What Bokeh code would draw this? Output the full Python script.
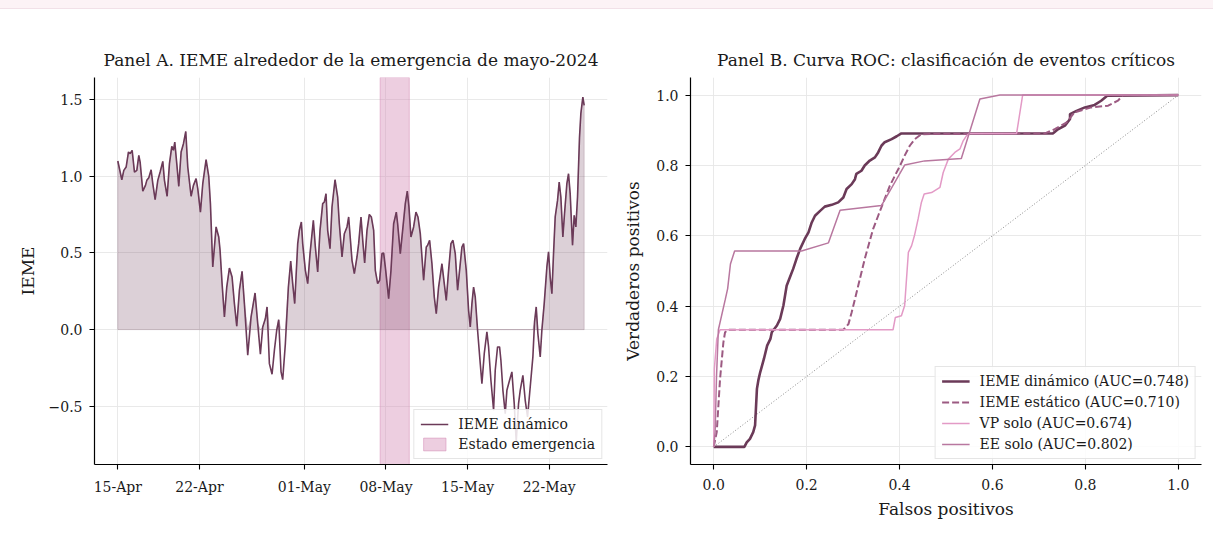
import numpy as np
from bokeh.plotting import figure
from bokeh.models import Range1d, FixedTicker, Legend, LegendItem, PrintfTickFormatter, Div
from bokeh.layouts import row, column
from bokeh.embed import file_html
from bokeh.resources import INLINE

FONT = "DejaVu Serif"

# ---------------- Panel A data ----------------
# days since 2024-04-15
tick_days = [0, 7, 16, 23, 30, 37]
tick_labels = ["15-Apr", "22-Apr", "01-May", "08-May", "15-May", "22-May"]

ieme_day = [0.000, 0.343, 0.514, 0.714, 0.914, 1.057, 1.229, 1.429, 1.629, 1.800, 1.914, 2.143, 2.371, 2.486,
            2.657, 2.857, 3.000, 3.200, 3.429, 3.629, 3.857, 4.000, 4.229, 4.429, 4.629, 4.771, 4.886, 5.057,
            5.229, 5.429, 5.629, 5.829, 6.000, 6.286, 6.486, 6.714, 6.857, 7.086, 7.286, 7.571, 7.800, 7.943,
            8.143, 8.429, 8.657, 8.771, 8.943, 9.143, 9.343, 9.571, 9.800, 10.000, 10.200, 10.429, 10.657,
            10.857, 11.143, 11.429, 11.771, 12.000, 12.229, 12.429, 12.657, 12.800, 13.000, 13.229, 13.429,
            13.629, 13.800, 14.000, 14.143, 14.371, 14.629, 14.829, 15.000, 15.171, 15.429, 15.571, 15.743,
            15.857, 16.086, 16.286, 16.486, 16.771, 16.943, 17.143, 17.343, 17.571, 17.714, 17.857, 18.000,
            18.200, 18.371, 18.629, 18.857, 19.000, 19.229, 19.429, 19.657, 19.800, 19.943, 20.086, 20.286,
            20.514, 20.657, 20.857, 21.029, 21.171, 21.371, 21.571, 21.743, 21.943, 22.086, 22.286, 22.457,
            22.657, 22.800, 22.943, 23.229, 23.429, 23.657, 23.886, 24.000, 24.229, 24.429, 24.657, 24.829,
            24.971, 25.143, 25.371, 25.571, 25.743, 25.943, 26.086, 26.229, 26.457, 26.571, 26.743, 26.943,
            27.143, 27.314, 27.514, 27.800, 28.000, 28.171, 28.371, 28.571, 28.743, 28.943, 29.143, 29.314,
            29.514, 29.657, 29.886, 30.086, 30.229, 30.371, 30.514, 30.657, 30.857, 31.086, 31.229, 31.429,
            31.657, 31.800, 32.000, 32.229, 32.371, 32.571, 32.743, 32.857, 33.029, 33.229, 33.371, 33.600,
            33.800, 34.000, 34.171, 34.371, 34.514, 34.743, 34.943, 35.143, 35.371, 35.600, 35.743, 35.886,
            36.029, 36.229, 36.371, 36.571, 36.800, 36.943, 37.086, 37.229, 37.371, 37.514, 37.714, 37.857,
            38.000, 38.171, 38.314, 38.514, 38.657, 38.800, 39.000, 39.143, 39.286, 39.429, 39.600, 39.714,
            39.886, 40.000]
ieme_val = [1.100, 0.978, 1.039, 1.061, 1.159, 1.148, 1.170, 1.028, 1.039, 1.137, 1.093, 0.904, 0.941, 0.974,
            0.991, 1.043, 0.952, 0.848, 0.974, 1.028, 1.098, 0.974, 0.870, 1.083, 1.196, 1.170, 1.224, 1.083,
            0.935, 1.159, 1.213, 1.293, 1.061, 0.870, 0.941, 0.985, 0.920, 0.767, 0.952, 1.109, 1.000, 0.822,
            0.409, 0.670, 0.604, 0.517, 0.300, 0.083, 0.278, 0.402, 0.343, 0.170, 0.022, 0.257, 0.380,
            0.170, -0.167, 0.083, 0.239, 0.039, -0.161, 0.017, 0.072, 0.148, -0.222, -0.291, -0.135,
            -0.004, 0.065, -0.276, -0.326, -0.091, 0.278, 0.448, 0.300, 0.170, 0.561, 0.648, 0.702,
            0.561, 0.387, 0.300, 0.496, 0.713, 0.539, 0.376, 0.648, 0.822, 0.833, 0.887, 0.648,
            0.528, 0.800, 0.978, 0.865, 0.691, 0.474, 0.626, 0.670, 0.735, 0.593, 0.452, 0.365,
            0.474, 0.561, 0.735, 0.561, 0.435, 0.648, 0.752, 0.735, 0.648, 0.387, 0.300, 0.322,
            0.496, 0.500, 0.409, 0.202, 0.387, 0.691, 0.767, 0.691, 0.496, 0.648, 0.822, 0.904,
            0.800, 0.604, 0.670, 0.767, 0.735, 0.626, 0.474, 0.322, 0.539, 0.550, 0.583, 0.430,
            0.213, 0.104, 0.278, 0.430, 0.300, 0.191, 0.387, 0.561, 0.583, 0.496, 0.257, 0.387,
            0.539, 0.561, 0.387, 0.126, 0.017, 0.170, 0.278, 0.213, -0.004, -0.222, -0.352, -0.157,
            -0.015, -0.113, -0.330, -0.526, -0.265, -0.113, -0.113, -0.200, -0.396, -0.548, -0.396, -0.330,
            -0.276, -0.483, -0.733, -0.483, -0.396, -0.298, -0.461, -0.570, -0.374, -0.178, 0.050, 0.148,
            -0.026, -0.178, -0.004, 0.170, 0.409, 0.507, 0.343, 0.235, 0.496, 0.735, 0.843, 0.963,
            0.865, 0.604, 0.757, 0.952, 1.017, 0.887, 0.550, 0.746, 0.670, 0.865, 1.257, 1.409,
            1.517, 1.463]

emergency_start_day = 22.5
emergency_end_day = 25.0

yA_min, yA_max = -0.88, 1.645
yA_ticks = [-0.5, 0.0, 0.5, 1.0, 1.5]
yA_labels = ["\u22120.5", "0.0", "0.5", "1.0", "1.5"]

# ---------------- Panel B data ----------------
din_fpr = [0, 0.066, 0.071, 0.078, 0.085, 0.089, 0.093, 0.096, 0.100, 0.108, 0.115, 0.122, 0.125, 0.136,
           0.143, 0.150, 0.157, 0.164, 0.171, 0.178, 0.186, 0.196, 0.204, 0.211, 0.218, 0.229, 0.239, 0.254,
           0.268, 0.279, 0.286, 0.297, 0.304, 0.307, 0.318, 0.325, 0.336, 0.347, 0.354, 0.361, 0.368, 0.383,
           0.394, 0.404, 0.730, 0.741, 0.756, 0.767, 0.767, 0.781, 0.799, 0.820, 0.834, 0.847, 1.0]
din_tpr = [0, 0, 0.013, 0.023, 0.042, 0.061, 0.165, 0.189, 0.212, 0.250, 0.288, 0.307, 0.326, 0.345,
           0.364, 0.402, 0.458, 0.482, 0.506, 0.534, 0.563, 0.591, 0.610, 0.638, 0.657, 0.671, 0.683, 0.688,
           0.695, 0.709, 0.733, 0.747, 0.761, 0.776, 0.785, 0.800, 0.814, 0.823, 0.837, 0.856, 0.866, 0.875,
           0.883, 0.891, 0.891, 0.903, 0.913, 0.932, 0.946, 0.955, 0.965, 0.972, 0.984, 0.998, 1.0]

est_fpr = [0, 0.0065, 0.0136, 0.0208, 0.0244, 0.0315, 0.279, 0.290, 0.297, 0.304, 0.311, 0.318, 0.325,
           0.333, 0.343, 0.354, 0.361, 0.368, 0.379, 0.390, 0.401, 0.411, 0.422, 0.433, 0.447, 0.713, 0.734,
           0.759, 0.777, 0.813, 0.849, 0.870, 0.881, 1.0]
est_tpr = [0, 0.042, 0.193, 0.297, 0.326, 0.333, 0.333, 0.349, 0.383, 0.420, 0.458, 0.496, 0.534,
           0.572, 0.619, 0.657, 0.681, 0.705, 0.742, 0.771, 0.799, 0.828, 0.856, 0.875, 0.889, 0.891, 0.903,
           0.922, 0.951, 0.965, 0.970, 0.984, 1.0, 1.0]

vp_fpr = [0, 0.0014, 0.0065, 0.0136, 0.386, 0.391, 0.404, 0.411, 0.419, 0.426, 0.432, 0.440, 0.447, 0.453,
          0.469, 0.487, 0.494, 0.505, 0.519, 0.530, 0.537, 0.544, 0.551, 0.652, 0.665, 1.0]
vp_tpr = [0, 0.222, 0.307, 0.333, 0.333, 0.368, 0.373, 0.402, 0.553, 0.572, 0.600, 0.648, 0.695, 0.719,
          0.723, 0.738, 0.780, 0.818, 0.837, 0.847, 0.870, 0.884, 0.891, 0.891, 1.0, 1.0]

ee_fpr = [0, 0.003, 0.006, 0.010, 0.025, 0.030, 0.036, 0.045, 0.189, 0.247, 0.272, 0.361, 0.411, 0.454,
          0.533, 0.573, 0.616, 1.0]
ee_tpr = [0, 0.042, 0.200, 0.333, 0.420, 0.450, 0.520, 0.557, 0.557, 0.580, 0.673, 0.686, 0.801, 0.813,
          0.820, 0.989, 1.0, 1.0]

diag = [0.0, 1.0]

roc_labels = ["IEME din\u00e1mico (AUC=0.748)", "IEME est\u00e1tico (AUC=0.710)",
              "VP solo (AUC=0.674)", "EE solo (AUC=0.802)"]

C_DIN = "#6b3a58"
C_EST = "#9c5a82"
C_VP = "#e39ac6"
C_EE = "#b8779f"
C_BAND = "#d48ab5"


def style(p):
    p.outline_line_color = None
    for ax in (p.xaxis[0], p.yaxis[0]):
        ax.axis_line_color = "black"
        ax.axis_line_width = 1.2
        ax.major_tick_line_color = "black"
        ax.major_tick_line_width = 1.1
        ax.major_tick_out = 5
        ax.major_tick_in = 0
        ax.minor_tick_out = 0
        ax.minor_tick_in = 0
        ax.major_label_text_font = FONT
        ax.major_label_text_font_size = "14px"
        ax.major_label_text_color = "#1a1a1a"
        ax.axis_label_text_font = FONT
        ax.axis_label_text_font_size = "17px"
        ax.axis_label_text_font_style = "normal"
        ax.axis_label_text_color = "#1a1a1a"
    p.xaxis.major_label_standoff = 9
    p.yaxis.major_label_standoff = 7
    p.xgrid.grid_line_color = "#e6e6e6"
    p.ygrid.grid_line_color = "#e6e6e6"
    p.xgrid.grid_line_width = 0.9
    p.ygrid.grid_line_width = 0.9
    p.title.text_font = FONT
    p.title.text_font_size = "17px"
    p.title.text_font_style = "normal"
    p.title.text_color = "#1a1a1a"
    p.title.align = "center"
    p.title.standoff = 16


def style_legend(lg, spacing):
    lg.label_text_font = FONT
    lg.label_text_font_size = "14px"
    lg.label_text_color = "#1a1a1a"
    lg.border_line_color = "#cccccc"
    lg.border_line_width = 1
    lg.background_fill_alpha = 0.85
    lg.glyph_width = 28
    lg.glyph_height = 16
    lg.label_height = 16
    lg.label_standoff = 10
    lg.spacing = spacing
    lg.padding = 6
    lg.margin = 5


TOP = 68

# ---------------- Panel A ----------------
pA = figure(frame_width=513, frame_height=387, output_backend="svg", toolbar_location=None,
            title="Panel A. IEME alrededor de la emergencia de mayo-2024",
            x_range=Range1d(-2.0, 42.0), y_range=Range1d(yA_min, yA_max))
pA.min_border_left = 94
pA.min_border_right = 13
pA.min_border_top = TOP
pA.min_border_bottom = 80
style(pA)

band = pA.quad(left=[emergency_start_day], right=[emergency_end_day], bottom=[yA_min], top=[yA_max],
               fill_color=C_BAND, fill_alpha=0.42, line_color=C_BAND, line_alpha=0.5, line_width=1)

d = np.array(ieme_day)
v = np.array(ieme_val)
pos = np.maximum(v, 0.0)
px = np.concatenate([d, [d[-1], d[0]]])
py = np.concatenate([pos, [0.0, 0.0]])
pA.patch(px, py, fill_color=C_DIN, fill_alpha=0.24, line_color=C_DIN, line_alpha=0.22, line_width=1)
lineA = pA.line(d, v, line_color=C_DIN, line_width=1.6)

pA.xaxis.ticker = FixedTicker(ticks=tick_days)
pA.xaxis.major_label_overrides = {k: lab for k, lab in zip(tick_days, tick_labels)}
pA.yaxis.ticker = FixedTicker(ticks=yA_ticks)
pA.yaxis.major_label_overrides = {k: lab for k, lab in zip(yA_ticks, yA_labels)}
pA.yaxis.axis_label = "IEME"
pA.yaxis.axis_label_standoff = 8

legA = Legend(items=[LegendItem(label="IEME din\u00e1mico", renderers=[lineA]),
                     LegendItem(label="Estado emergencia", renderers=[band])],
              location="bottom_right")
style_legend(legA, 4)
pA.add_layout(legA)

# ---------------- Panel B ----------------
pB = figure(frame_width=511, frame_height=387, output_backend="svg", toolbar_location=None,
            title="Panel B. Curva ROC: clasificaci\u00f3n de eventos cr\u00edticos",
            x_range=Range1d(-0.05, 1.05), y_range=Range1d(-0.05, 1.05))
pB.min_border_left = 69
pB.min_border_right = 6
pB.min_border_top = TOP
pB.min_border_bottom = 80
style(pB)

pB.line(diag, diag, line_color="#8a8a8a", line_width=1, line_dash="1 2")
r_din = pB.line(din_fpr, din_tpr, line_color=C_DIN, line_width=2.6)
r_est = pB.line(est_fpr, est_tpr, line_color=C_EST, line_width=2.0, line_dash="7 3")
r_vp = pB.line(vp_fpr, vp_tpr, line_color=C_VP, line_width=1.5)
r_ee = pB.line(ee_fpr, ee_tpr, line_color=C_EE, line_width=1.5)

ticksB = [0.0, 0.2, 0.4, 0.6, 0.8, 1.0]
pB.xaxis.ticker = FixedTicker(ticks=ticksB)
pB.yaxis.ticker = FixedTicker(ticks=ticksB)
pB.xaxis.formatter = PrintfTickFormatter(format="%.1f")
pB.yaxis.formatter = PrintfTickFormatter(format="%.1f")
pB.xaxis.axis_label = "Falsos positivos"
pB.yaxis.axis_label = "Verdaderos positivos"
pB.xaxis.axis_label_standoff = 6
pB.yaxis.axis_label_standoff = 10

legB = Legend(items=[LegendItem(label=lab, renderers=[r]) for lab, r in
                     zip(roc_labels, [r_din, r_est, r_vp, r_ee])],
              location="bottom_right")
style_legend(legB, 5)
pB.add_layout(legB)

top_band = Div(text="", width=1213, height=9, margin=(0, 0, 0, 0),
               styles={"background-color": "#fcf3f6", "border-bottom": "1px solid #f1e1e8"})

layout = column(top_band, row(pA, pB))
open("out.html", "w").write(file_html(layout, INLINE))
